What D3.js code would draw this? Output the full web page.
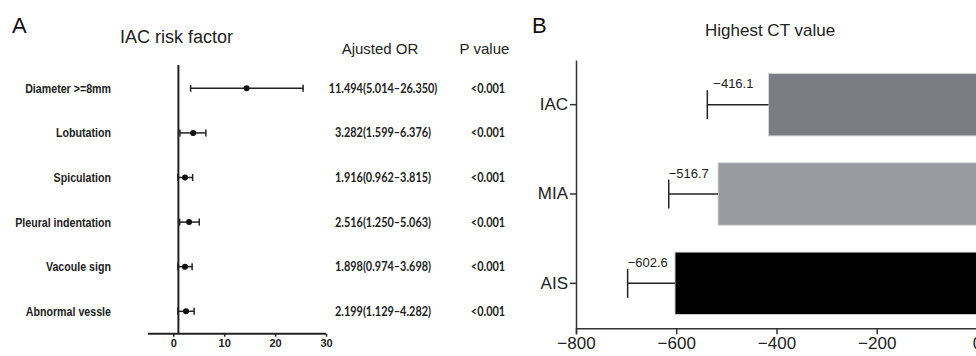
<!DOCTYPE html>
<html>
<head>
<meta charset="utf-8">
<script src="https://cdn.jsdelivr.net/npm/d3@7"></script>
<style>
  body { margin: 0; background: #fff; }
  svg { display: block; }
</style>
</head>
<body>
<script>

var width = 976,
    height = 356;

// panel A: forest plot (values as drawn on the plot)
var factors = ["Diameter >=8mm", "Lobutation", "Spiculation", "Pleural indentation", "Vacoule sign", "Abnormal vessle"];
var orPoint = [14.4, 3.9, 2.3, 3.1, 2.3, 2.5];
var orLow   = [3.4, 1.3, 0.9, 1.25, 0.9, 0.9];
var orHigh  = [25.5, 6.4, 3.8, 5.1, 3.7, 4.1];
var orText  = ["11.494(5.014\u201326.350)", "3.282(1.599\u20136.376)", "1.916(0.962\u20133.815)",
               "2.516(1.250\u20135.063)", "1.898(0.974\u20133.698)", "2.199(1.129\u20134.282)"];
var pText   = ["<0.001", "<0.001", "<0.001", "<0.001", "<0.001", "<0.001"];
var forestTicks = [0, 10, 20, 30];

// panel B: highest CT value
var groups = ["IAC", "MIA", "AIS"];
var ctMean = [-416.1, -516.7, -602.6];
var ctErr  = [-538, -615, -697];
var ctColors = ["#7c7d82", "#9a9aa2", "#000000"];
var ctTicks = [-800, -600, -400, -200, 0];

var svg = d3.select("body").append("svg")
    .attr("width", width)
    .attr("height", height);

var sans = "'Liberation Sans', Arial, sans-serif";

// ---------- panel A ----------
var fx = d3.scaleLinear().domain([0, 30]).range([173.3, 326]);
var fy = d3.scalePoint().domain(factors).range([88.3, 311.3]);

var gA = svg.append("g");

gA.append("text").attr("x", 12).attr("y", 33).text("A")
  .style("font-family", sans).style("font-size", "22px").attr("fill", "#111");
gA.append("text").attr("x", 120).attr("y", 42.5).text("IAC risk factor")
  .style("font-family", sans).style("font-size", "18px").attr("fill", "#222");
gA.append("text").attr("x", 380).attr("y", 53.5).attr("text-anchor", "middle").text("Ajusted OR")
  .style("font-family", sans).style("font-size", "15px").attr("fill", "#222");
gA.append("text").attr("x", 484.5).attr("y", 53.5).attr("text-anchor", "middle").text("P value")
  .style("font-family", sans).style("font-size", "15px").attr("fill", "#222");

// x axis
var axA = gA.append("g")
    .attr("transform", "translate(0,333.7)")
    .call(d3.axisBottom(fx).tickValues(forestTicks).tickSize(3).tickPadding(3));
axA.select(".domain").remove();
axA.append("line").attr("x1", fx(-5)).attr("x2", fx(30)).attr("stroke", "#222").attr("stroke-width", 2);
axA.selectAll(".tick line").attr("stroke", "#222").attr("stroke-width", 1.5);
axA.selectAll(".tick text")
  .style("font-family", sans).style("font-size", "11px").style("font-weight", "bold").attr("fill", "#222");

// reference line at OR = 1
gA.append("line")
  .attr("x1", fx(1)).attr("x2", fx(1))
  .attr("y1", 65).attr("y2", 334)
  .attr("stroke", "#222").attr("stroke-width", 2);

var rows = gA.selectAll("g.row")
    .data(factors)
    .enter().append("g")
    .attr("class", "row")
    .attr("transform", function(d) { return "translate(0," + fy(d) + ")"; });

// labels are a condensed bold face in the original: squeeze horizontally
rows.append("text")
  .attr("transform", "translate(111,0) scale(0.82,1)")
  .attr("dy", "0.35em").attr("text-anchor", "end")
  .text(function(d) { return d; })
  .style("font-family", sans)
  .style("font-size", "13px").style("font-weight", "bold").attr("fill", "#222");

rows.append("line")
  .attr("x1", function(d, i) { return fx(orLow[i]); })
  .attr("x2", function(d, i) { return fx(orHigh[i]); })
  .attr("stroke", "#222").attr("stroke-width", 1.5);
rows.append("line")
  .attr("x1", function(d, i) { return fx(orLow[i]); })
  .attr("x2", function(d, i) { return fx(orLow[i]); })
  .attr("y1", -3.5).attr("y2", 3.5)
  .attr("stroke", "#222").attr("stroke-width", 1.5);
rows.append("line")
  .attr("x1", function(d, i) { return fx(orHigh[i]); })
  .attr("x2", function(d, i) { return fx(orHigh[i]); })
  .attr("y1", -3.5).attr("y2", 3.5)
  .attr("stroke", "#222").attr("stroke-width", 1.5);
rows.append("circle")
  .attr("cx", function(d, i) { return fx(orPoint[i]); })
  .attr("r", 3).attr("fill", "#111");

rows.append("text")
  .attr("transform", "translate(383,0) scale(0.84,1)")
  .attr("dy", "0.35em").attr("text-anchor", "middle")
  .text(function(d, i) { return orText[i]; })
  .style("font-family", "Lato, " + sans).style("font-size", "13px").style("font-weight", "bold").attr("fill", "#222");
rows.append("text")
  .attr("transform", "translate(488,0) scale(0.84,1)")
  .attr("dy", "0.35em").attr("text-anchor", "middle")
  .text(function(d, i) { return pText[i]; })
  .style("font-family", "Lato, " + sans).style("font-size", "13px").style("font-weight", "bold").attr("fill", "#222");

// ---------- panel B ----------
var bx = d3.scaleLinear().domain([-800, 0]).range([576, 977]);
var by = d3.scaleBand().domain(groups).range([60, 328]).paddingInner(0.3).paddingOuter(0.15);

var gB = svg.append("g");

gB.append("text").attr("x", 532).attr("y", 33).text("B")
  .style("font-family", sans).style("font-size", "22px").attr("fill", "#111");
gB.append("text").attr("x", 705).attr("y", 36).text("Highest CT value")
  .style("font-family", sans).style("font-size", "17px").attr("fill", "#222");

gB.selectAll("rect.bar")
    .data(groups)
    .enter().append("rect")
    .attr("class", "bar")
    .attr("x", function(d, i) { return bx(ctMean[i]); })
    .attr("width", function(d, i) { return bx(0) - bx(ctMean[i]); })
    .attr("y", function(d) { return by(d); })
    .attr("height", by.bandwidth())
    .attr("fill", function(d, i) { return ctColors[i]; })
    .attr("stroke", "#d8d8da").attr("stroke-width", 1);

var err = gB.selectAll("g.err")
    .data(groups)
    .enter().append("g")
    .attr("class", "err")
    .attr("transform", function(d) { return "translate(0," + (by(d) + by.bandwidth() / 2) + ")"; });

err.append("line")
  .attr("x1", function(d, i) { return bx(ctErr[i]); })
  .attr("x2", function(d, i) { return bx(ctMean[i]); })
  .attr("stroke", "#222").attr("stroke-width", 1.5);
err.append("line")
  .attr("x1", function(d, i) { return bx(ctErr[i]); })
  .attr("x2", function(d, i) { return bx(ctErr[i]); })
  .attr("y1", -14.5).attr("y2", 14.5)
  .attr("stroke", "#222").attr("stroke-width", 1.5);
err.append("text")
  .attr("x", function(d, i) { return bx(ctErr[i]) + (i === 0 ? 6 : 0); })
  .attr("y", -21)
  .attr("dy", "0.35em")
  .text(function(d, i) { return d3.format(".1f")(ctMean[i]).replace("-", "\u2212"); })
  .style("font-family", sans).style("font-size", "13px").attr("fill", "#222");

var axBx = gB.append("g")
    .attr("transform", "translate(0,328.3)")
    .call(d3.axisBottom(bx).tickValues(ctTicks).tickSize(6).tickPadding(3).tickFormat(d3.format("d")));
axBx.select(".domain").attr("stroke", "#333").attr("stroke-width", 1.5);
axBx.selectAll(".tick line").attr("stroke", "#333").attr("stroke-width", 1.5);
axBx.selectAll(".tick text")
  .style("font-family", sans).style("font-size", "17px").attr("fill", "#222");

var axBy = gB.append("g")
    .attr("transform", "translate(576,0)")
    .call(d3.axisLeft(by).tickSize(6).tickPadding(2).tickSizeOuter(0));
axBy.select(".domain").attr("stroke", "#333").attr("stroke-width", 1.5);
axBy.selectAll(".tick line").attr("stroke", "#333").attr("stroke-width", 1.5);
axBy.selectAll(".tick text")
  .style("font-family", sans).style("font-size", "17px").attr("fill", "#222");

</script>
</body>
</html>
